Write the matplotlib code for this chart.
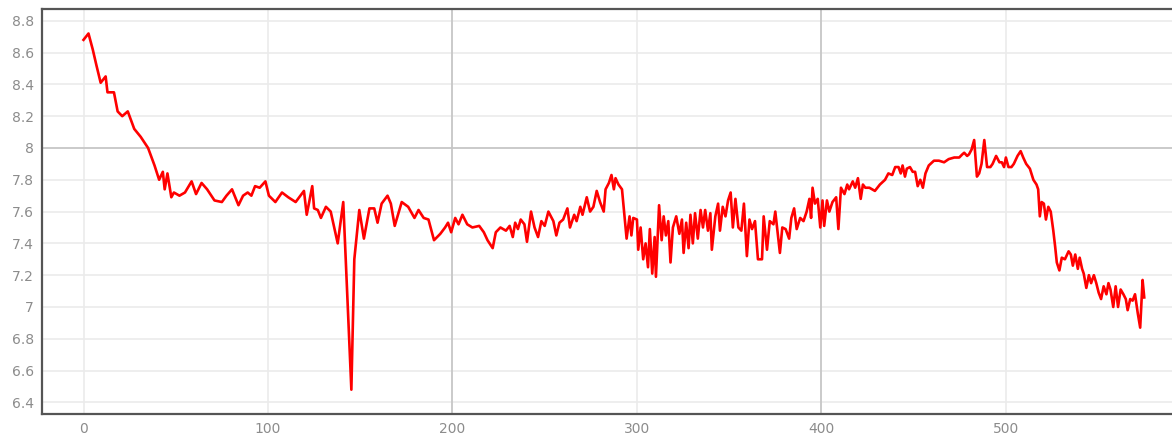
import matplotlib
matplotlib.use("Agg")
import matplotlib.pyplot as plt
from matplotlib.ticker import FuncFormatter

# values (x position, value)
xs = [0, 2.7, 5, 7, 9.3, 12, 13, 16.5, 18.5, 21, 24, 27.5, 31, 35, 38.5, 41, 43, 44,
      45.5, 47.6, 49, 52, 55, 58.6, 61, 64, 67, 71, 75, 77.5, 80.5, 84, 86.5, 89, 91,
      93, 95.5, 98.6, 100.5,
      104, 107.6, 111, 115, 119.5, 121, 124, 125, 127, 128.7, 131.4, 134, 137.8, 140.8,
      145.2, 146.8, 149.5, 152, 155, 157.6, 159.4, 161.6, 164.8, 166.6, 168.7, 172.5,
      176, 179.4, 181.6, 184.4, 187, 190, 193.4, 196, 197.6, 199.3, 201.5, 203.3, 205.4,
      208, 210.8, 214.5, 217, 219, 221.8, 223.5, 226, 229, 231, 232.7, 234, 235.5, 237,
      239, 240.4, 242.6, 244.5, 246.4, 248.2, 250, 252, 254.7, 256.3, 258, 260, 262.3,
      263.7, 266, 267.3, 269.3, 270.5, 272.8, 274.6, 276.4, 278.2, 280, 282, 283, 284.8,
      286.2, 287.5, 288.4, 290, 291.9, 294.4, 296, 297, 298, 300, 300.7, 302, 303.4,
      304.7, 306, 307, 308.3, 309.6, 310.3, 312, 313.4, 314.5, 315.7, 317, 318.2, 319.5,
      321.3, 323, 324.4, 325.3, 326.7, 328, 329, 330.3, 331.5, 333, 334.5, 335.8, 337,
      338.5, 339.8, 340.6, 342.5, 344, 345, 346.5, 348, 349.4, 350.8, 352, 353.4, 355,
      356.6, 358, 359.6, 361, 362.4, 364, 365.6, 367.8, 368.7, 370.5, 372, 374, 375,
      377.5, 378.8, 380.6, 382.5, 383.7, 385.2, 386.6, 388.5, 390.3, 392, 393.5, 394.4,
      395.2, 396.5, 398, 399.4, 400.6, 401.5, 403, 404.3, 406, 408, 409.2, 410.6, 412.5,
      414, 415, 417, 418.3, 419.8, 421.3, 422.5, 423.8, 426, 429, 431.7, 434.5, 436.3,
      438.4, 440, 441.8, 443, 444, 445.3, 446.3, 448, 449.5, 450.8, 452.2, 453.6, 455,
      456.4, 458.2, 461, 463.7, 466.5, 469, 472, 474.7, 476.4, 477.4, 479, 480, 481.4,
      482.8, 484.3, 485.5, 486.8, 488.3, 489.8, 491.6, 492.8, 494.7, 496.5, 497.8, 499,
      500, 501.4, 503, 504.3, 506.3, 508, 509.4, 511, 513, 514.9, 516.6, 517.5, 518.4,
      519.4, 520.6, 521.7, 523, 524.3, 525.7, 526.7, 527.6, 529, 530.3, 532, 534, 535.2,
      536.3, 537.6, 539, 540, 541.3, 542.2, 543.6, 545, 546.2, 547.7, 549, 550.3, 551.6,
      553, 554.5, 555.6, 556.7, 558.2, 559.5, 560.8, 562.2, 563.7, 565, 566, 567.4,
      568.7, 570, 571.5, 572.8, 574.1, 575]
ys = [8.68, 8.72, 8.62, 8.52, 8.41, 8.45, 8.35, 8.35, 8.23, 8.2, 8.23, 8.12, 8.07, 8.0,
      7.89, 7.8, 7.85, 7.74, 7.84, 7.69, 7.72, 7.7, 7.72, 7.79, 7.71, 7.78, 7.74, 7.67,
      7.66, 7.70, 7.74, 7.64, 7.70, 7.72, 7.70, 7.76, 7.75, 7.79, 7.7, 7.66, 7.72, 7.69,
      7.66, 7.73, 7.58, 7.76,
      7.62, 7.61, 7.56, 7.63, 7.6, 7.4, 7.66, 6.48, 7.3, 7.61, 7.43, 7.62, 7.62, 7.53,
      7.65, 7.7, 7.65, 7.51, 7.66, 7.63, 7.56, 7.61, 7.56, 7.55, 7.42, 7.46, 7.5, 7.53,
      7.47, 7.56, 7.52, 7.58, 7.52, 7.5, 7.51, 7.47, 7.42, 7.37, 7.47, 7.5, 7.48, 7.51,
      7.44, 7.53, 7.49, 7.55, 7.52, 7.41, 7.6, 7.5, 7.44, 7.54, 7.51, 7.6, 7.54, 7.45,
      7.53, 7.55, 7.62, 7.5, 7.58, 7.54, 7.63, 7.58, 7.69, 7.6, 7.63, 7.73, 7.66, 7.6,
      7.74, 7.78, 7.83, 7.74, 7.81, 7.77, 7.74, 7.43, 7.57, 7.45, 7.56, 7.55, 7.36, 7.5,
      7.3, 7.4, 7.25, 7.49, 7.21, 7.44, 7.19, 7.64, 7.42, 7.57, 7.45, 7.54, 7.28, 7.5,
      7.57, 7.46, 7.55, 7.34, 7.53, 7.37, 7.58, 7.4, 7.59, 7.43, 7.61, 7.5, 7.61, 7.48,
      7.59, 7.36, 7.57, 7.65, 7.48, 7.63, 7.57, 7.67, 7.72, 7.5, 7.68, 7.5, 7.48, 7.65,
      7.32, 7.55, 7.49, 7.54, 7.3, 7.3, 7.57, 7.36, 7.54, 7.52, 7.6, 7.34, 7.5, 7.49,
      7.43, 7.56, 7.62, 7.49, 7.56, 7.54, 7.6, 7.68, 7.56, 7.75, 7.65, 7.68, 7.5, 7.67,
      7.51, 7.67, 7.6, 7.66, 7.69, 7.49, 7.75, 7.71, 7.77, 7.74, 7.79, 7.75, 7.81, 7.68,
      7.77, 7.75, 7.75, 7.73, 7.77, 7.8, 7.84, 7.83, 7.88, 7.88, 7.84, 7.89, 7.82, 7.87,
      7.88, 7.85, 7.85, 7.76, 7.8, 7.75, 7.84, 7.89, 7.92, 7.92, 7.91, 7.93, 7.94, 7.94,
      7.96, 7.97, 7.95, 7.96, 7.99, 8.05, 7.82, 7.84, 7.9, 8.05, 7.88, 7.88, 7.9, 7.95,
      7.91, 7.91, 7.88, 7.94, 7.88, 7.88, 7.9, 7.95, 7.98, 7.94, 7.9, 7.87, 7.8, 7.77,
      7.74, 7.57, 7.66, 7.65, 7.55, 7.63, 7.6, 7.48, 7.38, 7.28, 7.23, 7.31, 7.3, 7.35,
      7.33, 7.26, 7.33, 7.24, 7.31, 7.24, 7.21, 7.12, 7.2, 7.15, 7.2, 7.15, 7.09, 7.05,
      7.13, 7.08, 7.15, 7.11, 7.0, 7.13, 7.0, 7.11, 7.08, 7.05, 6.98, 7.05, 7.04, 7.08,
      6.96, 6.87, 7.17, 7.06]

x_ticks = [0, 100, 200, 300, 400, 500]
y_ticks = [6.4, 6.6, 6.8, 7.0, 7.2, 7.4, 7.6, 7.8, 8.0, 8.2, 8.4, 8.6, 8.8]

fig = plt.figure(figsize=(11.72, 4.36), dpi=100)
ax = fig.add_axes([42 / 1172, 22 / 436, 1 - 42 / 1172 + 0.01, (414 - 9) / 436])

ax.set_xlim(-22.5, 596.4)
ax.set_ylim(6.327, 8.874)
ax.set_xticks(x_ticks)
ax.set_yticks(y_ticks)
ax.yaxis.set_major_formatter(FuncFormatter(lambda v, p: "%g" % round(v, 1)))

# light grid, with darker lines at the "major" positions
ax.grid(True, color="#ebebeb", linewidth=1.2)
for xv in (200, 400):
    ax.axvline(xv, color="#c4c4c4", linewidth=1.2, zorder=1)
ax.axhline(8.0, color="#c4c4c4", linewidth=1.2, zorder=1)
ax.set_axisbelow(True)

ax.plot(xs, ys, color="#ff0000", linewidth=1.9, zorder=3)

for side in ("left", "bottom", "top"):
    ax.spines[side].set_color("#555555")
    ax.spines[side].set_linewidth(1.6)
ax.spines["right"].set_visible(False)

ax.tick_params(length=0, labelsize=10, labelcolor="#8c8c8c", pad=6)

plt.savefig("out.png", dpi=100)
